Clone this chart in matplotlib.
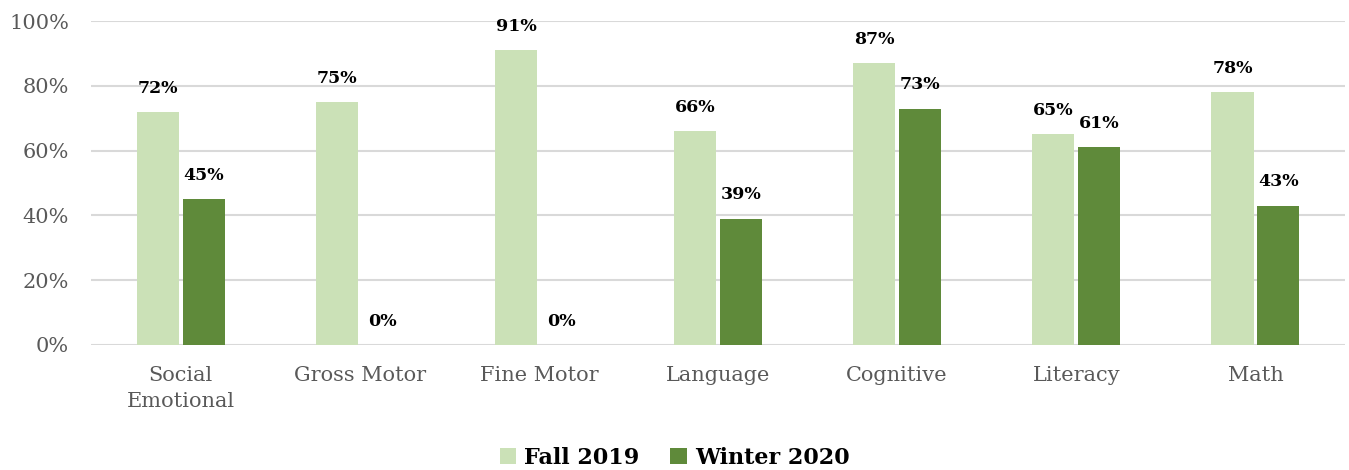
import matplotlib
matplotlib.use('Agg')
import matplotlib.pyplot as plt
import numpy as np

categories = ['Social\nEmotional', 'Gross Motor', 'Fine Motor', 'Language',
              'Cognitive', 'Literacy', 'Math']
fall_2019 = [72, 75, 91, 66, 87, 65, 78]
winter_2020 = [45, 0, 0, 39, 73, 61, 43]

light = '#CBE1B7'
dark = '#5F8A3A'
font = 'DejaVu Serif'

fig = plt.figure(figsize=(13.49, 4.70), dpi=100)
ax = fig.add_axes([0.0675, 0.266, 0.9295, 0.689])

x = np.arange(len(categories))
w = 0.235
off = 0.128
b1 = ax.bar(x - off, fall_2019, w, color=light, label='Fall 2019', zorder=2)
b2 = ax.bar(x + off, winter_2020, w, color=dark, label='Winter 2020', zorder=2)

for bars, vals in ((b1, fall_2019), (b2, winter_2020)):
    for r, v in zip(bars, vals):
        ax.annotate(f'{v}%', (r.get_x() + r.get_width() / 2, v),
                    xytext=(0, 11), textcoords='offset points',
                    ha='center', va='bottom', fontsize=12.5, fontweight='bold',
                    family=font, color='black')

ax.set_xlim(-0.5, len(categories) - 0.5)
ax.set_ylim(0, 100)
ax.set_yticks(range(0, 101, 20))
ax.set_yticklabels([f'{t}%' for t in range(0, 101, 20)],
                   family=font, fontsize=15, color='#595959')
ax.set_xticks(x)
ax.set_xticklabels(categories, family=font, fontsize=15, color='#595959',
                   linespacing=1.45)
ax.tick_params(axis='x', length=0, pad=15)
ax.tick_params(axis='y', length=0, pad=16)
ax.grid(axis='y', color='#D9D9D9', linewidth=1.5, zorder=0)
for s in ax.spines.values():
    s.set_visible(False)

fig.legend(handles=[b1, b2], loc='lower center', bbox_to_anchor=(0.5, -0.04),
           ncol=2, frameon=False, handlelength=0.75, handleheight=0.75,
           handletextpad=0.35, columnspacing=1.4,
           prop={'family': font, 'size': 16, 'weight': 'bold'})

fig.savefig('out.png', dpi=100)
